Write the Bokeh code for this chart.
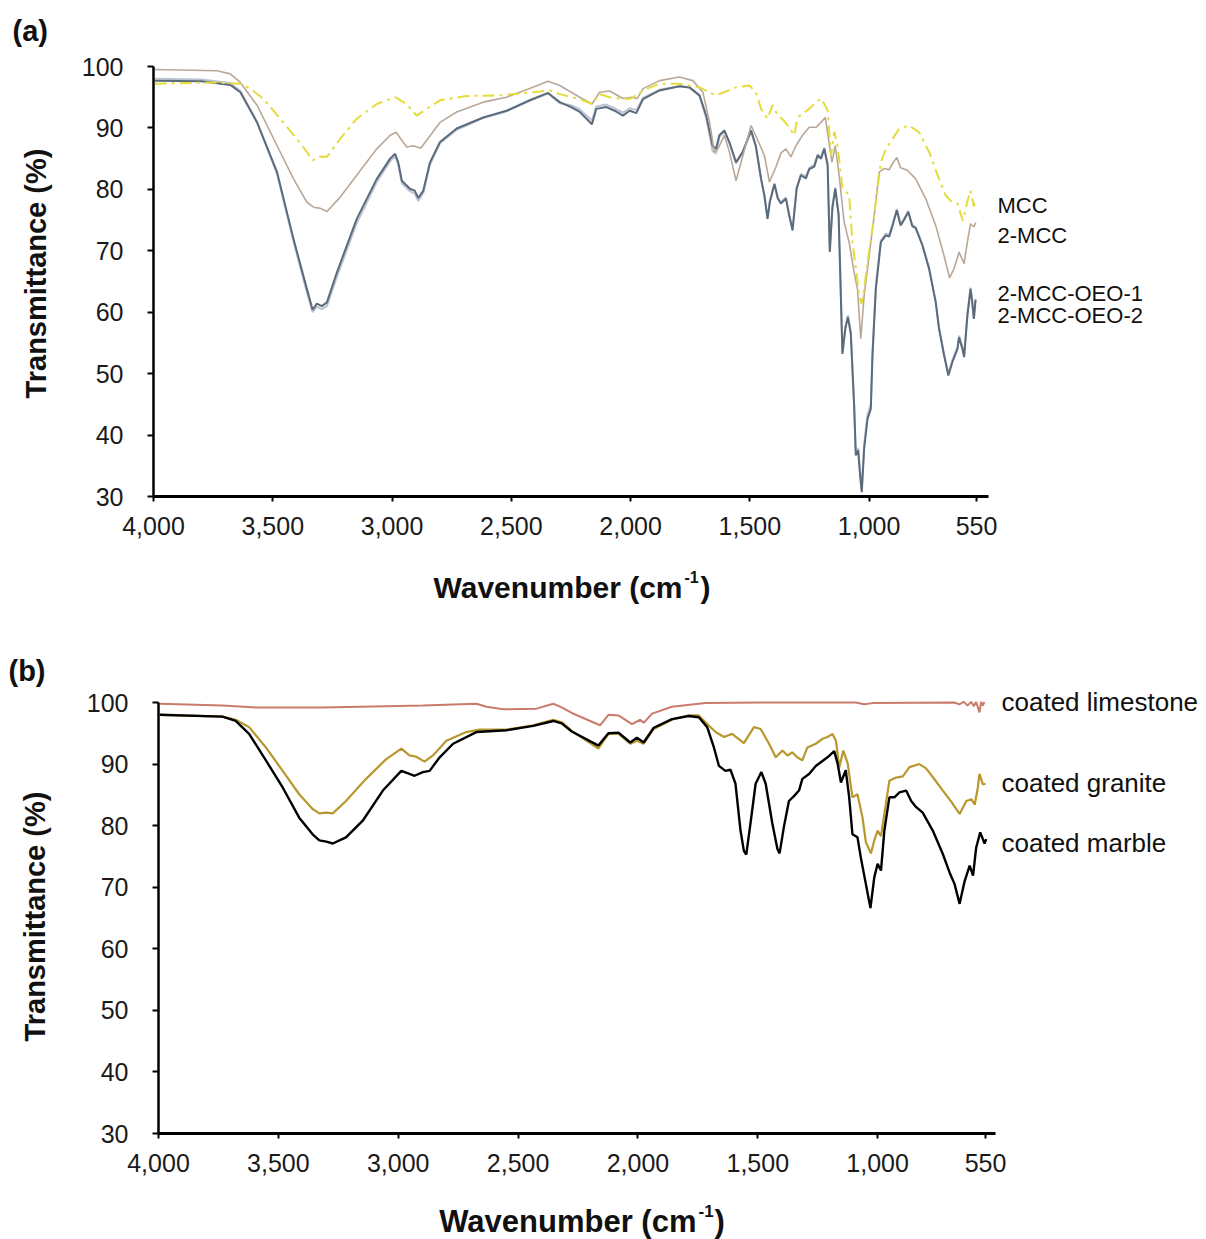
import math
from bokeh.plotting import figure
from bokeh.models import Range1d, FixedTicker, Label
from bokeh.layouts import column
from bokeh.embed import file_html
from bokeh.resources import INLINE

# ---------------- Panel (a) data ----------------
wn_oeo = [3995, 3800, 3678, 3636, 3566, 3482, 3413, 3357, 3333, 3315,
          3294, 3273, 3231, 3148, 3064, 3008, 2987, 2974, 2959, 2925,
          2905, 2890, 2869, 2841, 2799, 2729, 2618, 2520, 2423, 2346,
          2297, 2250, 2213, 2162, 2144, 2102, 2067, 2032, 2004, 1976,
          1948, 1879, 1795, 1753, 1711, 1683, 1656, 1642, 1628, 1607,
          1586, 1558, 1530, 1495, 1475, 1453, 1439, 1426, 1416, 1397,
          1383, 1370, 1349, 1335, 1321, 1304, 1286, 1265, 1251, 1230,
          1216, 1202, 1188, 1174, 1165, 1154, 1142, 1128, 1112, 1100,
          1089, 1077, 1063, 1056, 1046, 1038, 1031, 1021, 1007, 993,
          986, 972, 951, 930, 916, 902, 884, 868, 854, 836,
          819, 805, 777, 749, 721, 707, 686, 668, 651, 630,
          623, 609, 602, 588, 575, 568, 561, 554]
t_oeo1 = [97.7, 97.6, 97.0, 95.8, 90.9, 82.8, 71.9, 63.8, 60.4, 61.4,
          61.0, 61.6, 66.5, 75.2, 81.7, 85.0, 85.8, 84.4, 81.4, 80.1,
          79.8, 78.6, 79.8, 84.4, 87.7, 89.9, 91.7, 92.8, 94.5, 95.7,
          94.2, 93.4, 92.6, 90.6, 93.1, 93.4, 92.8, 92.0, 92.8, 92.4,
          94.7, 96.1, 96.8, 96.6, 95.3, 92.0, 87.1, 86.6, 88.8, 89.6,
          87.7, 84.4, 86.1, 89.6, 87.1, 81.7, 79.0, 75.2, 78.0, 80.9,
          78.5, 77.7, 78.5, 75.7, 73.3, 80.1, 82.3, 81.8, 83.3, 83.7,
          85.5, 85.0, 86.6, 83.9, 69.8, 77.0, 80.1, 75.8, 53.2, 57.3,
          59.2, 56.5, 44.8, 36.7, 37.5, 33.4, 30.7, 37.8, 42.6, 44.3,
          53.0, 63.8, 71.4, 72.5, 72.3, 74.1, 76.6, 74.1, 75.0, 76.3,
          74.0, 73.7, 70.9, 67.1, 61.6, 57.3, 53.0, 49.7, 51.9, 54.0,
          55.9, 54.0, 52.7, 59.5, 63.8, 61.6, 58.9, 62.0]
t_oeo2 = [98.0, 97.9, 97.3, 96.0, 91.0, 82.5, 71.5, 63.2, 60.0, 60.9,
          60.5, 61.0, 65.8, 74.5, 81.2, 84.6, 85.4, 84.0, 81.0, 79.7,
          79.3, 78.1, 79.4, 84.0, 87.5, 89.7, 91.6, 92.7, 94.4, 95.6,
          94.0, 93.7, 93.0, 91.2, 93.5, 93.8, 93.2, 92.5, 93.2, 92.9,
          94.9, 96.2, 96.8, 96.6, 95.2, 91.6, 86.2, 85.8, 88.5, 89.4,
          87.5, 84.2, 86.0, 89.4, 86.8, 81.5, 78.8, 75.4, 78.2, 80.8,
          78.6, 77.9, 78.7, 75.9, 73.6, 80.3, 82.5, 82.1, 83.5, 84.0,
          85.7, 85.2, 86.8, 84.1, 70.3, 77.3, 80.3, 76.0, 53.6, 57.6,
          59.5, 56.8, 45.2, 37.2, 37.9, 34.0, 31.2, 38.4, 43.3, 45.0,
          53.6, 64.2, 71.7, 72.8, 72.6, 74.3, 76.8, 74.3, 75.2, 76.5,
          74.2, 73.9, 71.1, 67.3, 61.8, 57.5, 53.2, 50.0, 52.2, 54.3,
          56.2, 54.3, 53.0, 59.8, 64.0, 61.8, 59.1, 62.2]

wn_2mcc = [3995, 3734, 3678, 3636, 3566, 3482, 3413, 3357, 3329, 3300,
           3273, 3218, 3148, 3064, 3008, 2983, 2959, 2939, 2911, 2880,
           2855, 2799, 2729, 2618, 2520, 2423, 2346, 2297, 2213, 2162,
           2130, 2088, 2032, 1997, 1972, 1948, 1879, 1795, 1739, 1697,
           1669, 1649, 1635, 1607, 1586, 1558, 1530, 1495, 1467, 1439,
           1418, 1391, 1370, 1349, 1328, 1307, 1279, 1251, 1223, 1202,
           1184, 1170, 1156, 1142, 1126, 1105, 1084, 1063, 1049, 1035,
           1021, 1000, 979, 958, 937, 916, 902, 884, 868, 840,
           805, 763, 721, 686, 663, 644, 623, 602, 588, 575,
           561, 553]
t_2mcc = [99.5, 99.3, 98.8, 97.4, 93.7, 87.1, 81.7, 77.9, 77.1, 76.9,
          76.4, 78.7, 82.3, 86.6, 88.8, 89.3, 88.0, 86.9, 87.1, 86.7,
          88.0, 90.9, 92.6, 94.2, 95.0, 96.4, 97.6, 96.9, 95.0, 93.9,
          95.8, 96.0, 94.8, 95.0, 94.8, 96.4, 97.7, 98.3, 97.7, 95.8,
          90.9, 86.1, 86.5, 88.8, 86.1, 81.4, 85.4, 90.4, 88.0, 85.5,
          81.2, 83.6, 85.9, 86.6, 85.3, 87.1, 88.8, 90.1, 90.1, 90.9,
          91.7, 88.1, 84.4, 87.1, 82.3, 74.7, 71.4, 66.5, 63.8, 55.7,
          62.7, 69.2, 75.7, 82.8, 83.4, 83.2, 84.2, 85.2, 83.5, 83.1,
          81.7, 78.5, 74.1, 69.2, 65.6, 67.1, 69.8, 67.9, 71.5, 74.4,
          73.9, 74.6]

wn_mcc = [3995, 3734, 3636, 3594, 3538, 3469, 3399, 3357, 3333, 3308,
          3273, 3218, 3148, 3064, 2987, 2939, 2897, 2855, 2799, 2688,
          2548, 2409, 2339, 2297, 2213, 2162, 2130, 2088, 2032, 1997,
          1948, 1879, 1795, 1711, 1642, 1558, 1502, 1475, 1453, 1426,
          1405, 1383, 1363, 1335, 1314, 1300, 1279, 1251, 1223, 1202,
          1188, 1174, 1160, 1146, 1132, 1112, 1098, 1084, 1070, 1052,
          1042, 1032, 1021, 1007, 986, 965, 951, 930, 902, 874,
          833, 791, 749, 707, 679, 658, 630, 607, 588, 575,
          561, 553]
t_mcc = [97.2, 97.4, 97.2, 96.4, 94.7, 91.5, 88.2, 86.1, 84.7, 85.3,
         85.3, 88.2, 91.5, 93.9, 95.0, 93.9, 92.0, 93.1, 94.5, 95.2,
         95.3, 95.8, 96.1, 95.5, 94.7, 93.9, 95.5, 95.0, 94.7, 94.8,
         96.1, 97.2, 97.2, 96.6, 95.3, 96.6, 96.9, 95.8, 93.1, 91.5,
         93.7, 92.0, 91.4, 90.1, 88.8, 91.7, 92.3, 93.1, 94.2, 94.8,
         93.9, 92.9, 85.5, 89.4, 87.0, 80.1, 79.6, 79.1, 71.4, 66.0,
         62.7, 61.4, 63.8, 68.1, 73.6, 80.1, 84.4, 86.6, 88.2, 89.9,
         90.4, 89.3, 86.1, 81.7, 79.0, 78.1, 77.7, 74.9, 78.1, 79.8,
         77.2, 78.5]

# ---------------- Panel (b) data ----------------
wn_lime = [3995, 3733, 3594, 3315, 2897, 2674, 2632, 2562, 2423, 2353,
           2318, 2276, 2158, 2123, 2081, 2025, 1990, 1976, 1941, 1858,
           1718, 1439, 1091, 1056, 1021, 680, 660, 640, 625, 610,
           598, 590, 582, 575, 568, 561, 555]
t_lime = [99.8, 99.5, 99.2, 99.2, 99.5, 99.8, 99.3, 98.9, 99.0, 99.8,
          99.2, 98.3, 96.3, 98.0, 97.9, 96.5, 97.2, 96.7, 98.2, 99.3,
          99.9, 100.0, 100.0, 99.7, 99.9, 100.0, 99.7, 100.1, 99.5, 100.1,
          99.4, 100.1, 99.3, 98.4, 100.1, 99.5, 100.1]

wn_gran = [3995, 3733, 3678, 3622, 3552, 3482, 3413, 3357, 3329, 3300,
           3273, 3218, 3134, 3050, 2987, 2953, 2925, 2890, 2855, 2799,
           2716, 2660, 2548, 2437, 2353, 2318, 2276, 2165, 2123, 2081,
           2032, 2004, 1976, 1934, 1858, 1788, 1746, 1711, 1676, 1641,
           1607, 1558, 1516, 1488, 1453, 1425, 1397, 1376, 1356, 1335,
           1314, 1293, 1258, 1230, 1209, 1188, 1174, 1160, 1143, 1125,
           1105, 1084, 1063, 1049, 1028, 1014, 1000, 986, 972, 951,
           923, 895, 867, 826, 798, 770, 728, 693, 658, 630,
           609, 595, 582, 575, 561, 550]
t_gran = [98.0, 97.7, 97.2, 96.0, 92.7, 88.9, 85.1, 82.7, 82.0, 82.1,
          82.0, 84.0, 87.6, 90.8, 92.5, 91.4, 91.2, 90.4, 91.4, 93.8,
          95.2, 95.6, 95.6, 96.3, 97.2, 96.8, 95.4, 92.5, 94.9, 94.9,
          93.3, 93.8, 93.3, 95.7, 97.2, 97.9, 97.9, 96.5, 95.2, 94.4,
          94.9, 93.4, 96.0, 95.7, 93.3, 91.1, 92.2, 91.4, 91.9, 91.1,
          90.6, 92.7, 93.3, 94.1, 94.4, 94.9, 93.8, 89.5, 92.2, 90.1,
          84.6, 85.1, 81.3, 77.3, 75.5, 77.6, 79.2, 78.3, 81.9, 87.3,
          87.8, 88.0, 89.5, 90.0, 89.3, 87.9, 85.7, 83.9, 81.9, 84.0,
          84.3, 83.4, 86.2, 88.4, 86.7, 86.8]

wn_marb = [3995, 3733, 3678, 3622, 3552, 3482, 3413, 3357, 3329, 3300,
           3273, 3218, 3148, 3064, 2987, 2953, 2932, 2897, 2869, 2827,
           2771, 2674, 2548, 2437, 2353, 2318, 2276, 2165, 2123, 2081,
           2032, 2004, 1976, 1934, 1858, 1788, 1746, 1711, 1683, 1662,
           1635, 1614, 1593, 1572, 1558, 1548, 1530, 1509, 1485, 1467,
           1439, 1418, 1409, 1391, 1370, 1349, 1328, 1314, 1286, 1258,
           1230, 1209, 1181, 1167, 1153, 1133, 1119, 1105, 1084, 1070,
           1049, 1030, 1014, 1000, 986, 972, 951, 930, 909, 881,
           860, 839, 812, 770, 728, 700, 679, 658, 637, 616,
           602, 589, 572, 554, 547]
t_marb = [98.0, 97.7, 97.0, 94.9, 90.6, 86.2, 81.3, 78.6, 77.6, 77.4,
          77.1, 78.1, 80.8, 85.7, 88.9, 88.4, 88.1, 88.7, 88.9, 91.1,
          93.3, 95.2, 95.5, 96.2, 97.0, 96.6, 95.3, 93.0, 95.0, 95.1,
          93.5, 94.3, 93.5, 95.9, 97.3, 97.8, 97.6, 96.0, 92.7, 89.7,
          88.9, 89.1, 86.8, 79.2, 75.9, 75.3, 80.5, 86.8, 88.7, 86.8,
          80.3, 76.2, 75.5, 79.8, 84.0, 84.8, 85.7, 87.6, 88.4, 89.7,
          90.5, 91.1, 92.1, 90.1, 87.0, 89.0, 84.7, 78.6, 78.1, 74.8,
          70.5, 66.6, 71.6, 73.8, 72.7, 79.2, 84.6, 84.6, 85.4, 85.7,
          84.0, 83.0, 82.1, 79.2, 75.4, 72.4, 70.5, 67.3, 71.0, 73.5,
          71.9, 76.4, 78.9, 77.1, 77.8]

x_ticks = [4000, 3500, 3000, 2500, 2000, 1500, 1000, 550]
x_tick_labels = ["4,000", "3,500", "3,000", "2,500", "2,000", "1,500", "1,000", "550"]
y_ticks = [30, 40, 50, 60, 70, 80, 90, 100]

FONT = "Liberation Sans"
W = 1206


def make_fig(height, frame_left, frame_right, frame_top, frame_bottom, x_end):
    """Frame fills the whole figure; axes are pinned at wn=4000 and T=30."""
    xs = (frame_right - frame_left) / (4000 - x_end)          # px per cm-1
    ys = (frame_bottom - frame_top) / 70.0                    # px per %
    x0 = 4000 + frame_left / xs
    x1 = 4000 - (W - frame_left) / xs
    y1 = 100 + frame_top / ys
    y0 = 30 - (height - frame_bottom) / ys
    p = figure(width=W, height=height, output_backend="svg", toolbar_location=None,
               title=None, x_range=Range1d(x0, x1), y_range=Range1d(y0, y1),
               min_border=0, min_border_left=0, min_border_right=0,
               min_border_top=0, min_border_bottom=0)
    p.outline_line_color = None
    p.grid.visible = False
    p.background_fill_color = "white"
    p.border_fill_color = "white"
    p.xaxis.fixed_location = 30
    p.yaxis.fixed_location = 4000
    p.xaxis.bounds = (x_end, 4000.01)
    p.yaxis.bounds = (29.99, 100.01)
    p.xaxis.ticker = FixedTicker(ticks=x_ticks)
    p.xaxis.major_label_overrides = {t: l for t, l in zip(x_ticks, x_tick_labels)}
    p.yaxis.ticker = FixedTicker(ticks=y_ticks)
    for ax in (p.xaxis, p.yaxis):
        ax.axis_line_color = "black"
        ax.major_tick_line_color = "black"
        ax.major_tick_line_width = 2
        ax.major_tick_in = 0
        ax.minor_tick_line_color = None
        ax.major_label_text_font = FONT
        ax.major_label_text_font_size = "25px"
        ax.major_label_text_color = "#1a1a1a"
    p.xaxis.axis_line_width = 3
    p.yaxis.axis_line_width = 2.5
    p.xaxis.major_tick_out = 5
    p.yaxis.major_tick_out = 6
    p.xaxis.major_label_standoff = 15
    p.yaxis.major_label_standoff = 24
    return p


def label(p, h, text, px, py, size, bold=False, align="left", baseline="middle", angle=0.0):
    p.add_layout(Label(x=px, y=h - py, x_units="screen", y_units="screen", text=text,
                       text_font=FONT, text_font_size=f"{size}px",
                       text_font_style="bold" if bold else "normal",
                       text_align=align, text_baseline=baseline, angle=angle,
                       text_color="#111111"))


# ---------- Panel (a) ----------
HA = 620
pa = make_fig(HA, 153, 976 + 0.2386 * 50, 66, 496, 500)
pa.line(wn_oeo, t_oeo2, line_color="#BCC3D4", line_width=2)
pa.line(wn_oeo, t_oeo1, line_color="#5C6B7A", line_width=2)
pa.line(wn_2mcc, t_2mcc, line_color="#B9A898", line_width=1.6)
pa.line(wn_mcc, t_mcc, line_color="#E4DC3A", line_width=2, line_dash="12 5 3 5")

def la(text, px, py, size, **kw):
    label(pa, HA, text, px, py, size, **kw)

la("(a)", 12, 30, 29, bold=True)
la("Transmittance (%)", 35, 273, 29, bold=True, align="center", angle=math.pi / 2)
la("Wavenumber (cm", 682, 587, 30, bold=True, align="right", baseline="alphabetic")
la("-1", 684, 576, 16, bold=True, baseline="alphabetic")
la(")", 700, 587, 30, bold=True, baseline="alphabetic")
la("MCC", 997, 205, 22)
la("2-MCC", 997, 235, 22)
la("2-MCC-OEO-1", 997, 293, 22)
la("2-MCC-OEO-2", 997, 315, 22)

# ---------- Panel (b) ----------
HB = 619
OFF = 620  # page y offset of panel (b)
pb = make_fig(HB, 158, 985 + 0.2397 * 40, 702 - OFF, 1133 - OFF, 510)
pb.line(wn_lime, t_lime, line_color="#C97B6C", line_width=2)
pb.line(wn_gran, t_gran, line_color="#B8982E", line_width=2.2)
pb.line(wn_marb, t_marb, line_color="#000000", line_width=2.4)

def lb(text, px, py, size, **kw):
    label(pb, HB, text, px, py - OFF, size, **kw)

lb("(b)", 8, 670, 29, bold=True)
lb("Transmittance (%)", 34, 916, 29, bold=True, align="center", angle=math.pi / 2)
lb("Wavenumber (cm", 696, 1221, 31, bold=True, align="right", baseline="alphabetic")
lb("-1", 698, 1210, 17, bold=True, baseline="alphabetic")
lb(")", 714, 1221, 31, bold=True, baseline="alphabetic")
lb("coated limestone", 1001, 701, 26)
lb("coated granite", 1001, 782, 26)
lb("coated marble", 1001, 842, 26)

layout = column(pa, pb)
open("out.html", "w").write(file_html(layout, INLINE))
